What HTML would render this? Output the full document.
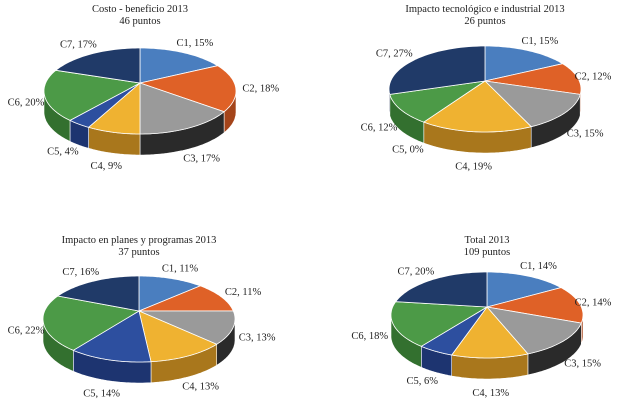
<!DOCTYPE html>
<html><head><meta charset="utf-8"><style>
body{margin:0;background:#fff;}
svg{display:block;font-family:"Liberation Serif",serif;}
</style></head><body>
<svg id="c" width="619" height="400"></svg>
<script>
const categories=["C1","C2","C3","C4","C5","C6","C7"];
const titles=["Costo - beneficio 2013","Impacto tecnológico e industrial 2013","Impacto en planes y programas 2013","Total 2013"];
const subtitles=["46 puntos","26 puntos","37 puntos","109 puntos"];
const valuesCosto=[15,18,17,9,4,20,17];
const valuesImpacto=[15,12,15,19,0,12,27];
const valuesPlanes=[11,11,13,13,14,22,16];
const valuesTotal=[14,14,15,13,6,18,20];
const colors=["#4a7ebf","#df6127","#9a9a9a","#efb231","#2d4f9f","#4c9a47","#203a68"];
const sides=["#2f5a8f","#a4441a","#2a2a2a","#a9771c","#1d3470","#33702f","#14264a"];
const svg=document.getElementById('c');
const NS="http://www.w3.org/2000/svg";
function mk(t,a){const e=document.createElementNS(NS,t);for(const k in a)e.setAttribute(k,a[k]);return e;}
const layout=[{cx:140,cy:91,tx:140,ty:12},{cx:485,cy:89,tx:485,ty:12},{cx:139,cy:319,tx:139,ty:243},{cx:487,cy:315,tx:487,ty:243}];
const RX=96,RY=43,D=21,OFF=8;
function pt(cx,cy,a,dy){return [cx+RX*Math.sin(a),cy-RY*Math.cos(a)+(dy||0)];}
function drawPie(vals,i){
  const L=layout[i];const g=mk('g',{});
  
  
  svg.appendChild(g);
  let t=mk('text',{x:L.tx,y:L.ty,'text-anchor':'middle','font-size':'10.5',fill:'#222'});t.textContent=titles[i];
  g.appendChild(t);
  t=mk('text',{x:L.tx,y:L.ty+12,'text-anchor':'middle','font-size':'10.5',fill:'#222'});t.textContent=subtitles[i];
  g.appendChild(t);
  const total=vals.reduce((a,b)=>a+b,0);
  const angs=[];let a=0;
  vals.forEach(v=>{const b=a+v/total*2*Math.PI;angs.push([a,b]);a=b;});
  angs.forEach(([s,e],k)=>{
    const s2=Math.max(s,Math.PI/2),e2=Math.min(e,3*Math.PI/2);
    if(e2<=s2)return;
    let d='';const n=30;
    for(let j=0;j<=n;j++){const p=pt(L.cx,L.cy,s2+(e2-s2)*j/n);d+=(j?'L':'M')+p[0].toFixed(1)+','+p[1].toFixed(1);}
    for(let j=n;j>=0;j--){const p=pt(L.cx,L.cy,s2+(e2-s2)*j/n,D);d+='L'+p[0].toFixed(1)+','+p[1].toFixed(1);}
    const p=mk('path',{d:d+'Z',fill:sides[k],stroke:'#fff','stroke-width':'0.6'});
    
    
    g.appendChild(p);
  });
  angs.forEach(([s,e],k)=>{
    if(e-s<=0)return;
    let d='M'+L.cx+','+(L.cy-OFF);const n=40;
    for(let j=0;j<=n;j++){const p=pt(L.cx,L.cy,s+(e-s)*j/n);d+='L'+p[0].toFixed(1)+','+p[1].toFixed(1);}
    const p=mk('path',{d:d+'Z',fill:colors[k],stroke:'#fff','stroke-width':'0.8'});
    
    
    g.appendChild(p);
  });
  angs.forEach(([s,e],k)=>{
    const m=(s+e)/2;const sn=Math.sin(m),cs=Math.cos(m);
    let x=L.cx+(RX+25)*sn,y=L.cy-(RY+12)*cs+4;
    x=Math.max(26,Math.min(593,x));
    if(cs<0)y+=D*(-cs)+1;
    const tx=mk('text',{x:x.toFixed(1),y:y.toFixed(1),'text-anchor':'middle','font-size':'10.5',fill:'#222'});
    tx.textContent=categories[k]+', '+vals[k]+'%';
    
    
    g.appendChild(tx);
  });
}
[valuesCosto,valuesImpacto,valuesPlanes,valuesTotal].forEach(drawPie);
</script>
</body></html>
